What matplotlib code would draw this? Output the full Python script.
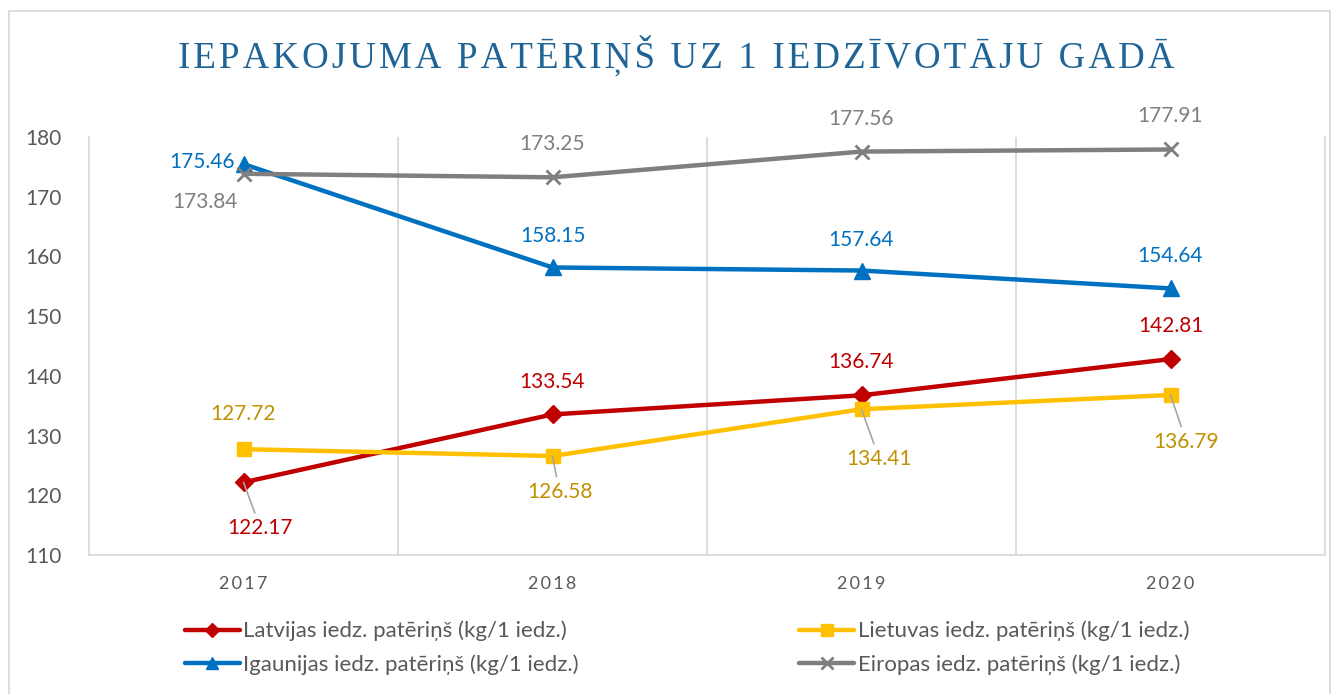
import matplotlib
matplotlib.use("Agg")
import matplotlib.pyplot as plt
from matplotlib.patches import Rectangle

years = ["2017", "2018", "2019", "2020"]
latvija = [122.17, 133.54, 136.74, 142.81]
lietuva = [127.72, 126.58, 134.41, 136.79]
igaunija = [175.46, 158.15, 157.64, 154.64]
eiropa = [173.84, 173.25, 177.56, 177.91]

names = ["Latvijas iedz. patēriņš (kg/1 iedz.)",
         "Lietuvas iedz. patēriņš (kg/1 iedz.)",
         "Igaunijas iedz. patēriņš (kg/1 iedz.)",
         "Eiropas iedz. patēriņš (kg/1 iedz.)"]

FONT = ["Lato", "DejaVu Sans"]
W, H = 1337, 694
fig = plt.figure(figsize=(W / 100, H / 100), dpi=100)
ax = fig.add_axes([89 / W, 1 - 555 / H, (1325 - 89) / W, (555 - 137) / H])

x = list(range(len(years)))
series = [
    (latvija, "#C00000", "D", 9, "#C00000"),
    (lietuva, "#FFC000", "s", 10, "#BF9000"),
    (igaunija, "#0070C0", "^", 11, "#0070C0"),
    (eiropa, "#7F7F7F", "x", 10, "#7F7F7F"),
]

# label offsets in pixels (dx, dy), leader flag
offsets = [
    [(17, -46, True), (0, 32, False), (0, 33, False), (0, 33, False)],
    [(0, 35, False), (7, -36, True), (18, -50, True), (16, -47, True)],
    [(-41, 2, False), (0, 31, False), (0, 31, False), (0, 32, False)],
    [(-39, -28, False), (0, 33, False), (0, 33, False), (0, 33, False)],
]

handles = []
for (vals, col, mk, ms, lcol), name, offs in zip(series, names, offsets):
    mew = 2 if mk == "x" else 1
    ln, = ax.plot(x, vals, color=col, lw=3.2, marker=mk, markersize=ms,
                  markerfacecolor=col, markeredgecolor=col, markeredgewidth=mew,
                  label=name, zorder=3, solid_capstyle="round")
    handles.append(ln)
    for xi, v, (dx, dy, lead) in zip(x, vals, offs):
        kw = {}
        if lead:
            kw["arrowprops"] = dict(arrowstyle="-", color="#A6A6A6", lw=1.2,
                                    shrinkA=2, shrinkB=0)
        ax.annotate(f"{v:.2f}", (xi, v), xytext=(dx, dy), textcoords="offset pixels",
                    ha="center", va="center", color=lcol, fontsize=15,
                    family=FONT, zorder=4, **kw)

ax.set_xlim(-0.5, 3.5)
ax.set_ylim(110, 180)
ax.set_yticks(range(110, 181, 10))
ax.set_xticks(x)
ax.set_xticklabels(["\u2009".join(y) for y in years], family=FONT, fontsize=13,
                   color="#595959")
for lab in ax.get_yticklabels():
    lab.set_family(FONT)
    lab.set_fontsize(15)
    lab.set_color("#595959")
ax.tick_params(axis="both", length=0)
ax.tick_params(axis="x", pad=15)
ax.tick_params(axis="y", pad=20)
for xv in [0.5, 1.5, 2.5]:
    ax.axvline(xv, color="#D9D9D9", lw=1.3, zorder=1)
ax.spines["top"].set_visible(False)
for s in ["left", "right", "bottom"]:
    ax.spines[s].set_color("#D9D9D9")
    ax.spines[s].set_linewidth(1.3)

title = "IEPAKOJUMA PATĒRIŅŠ UZ 1 IEDZĪVOTĀJU GADĀ"
fig.text(676 / W, 1 - 55 / H, "\u200a".join(title), ha="center", va="center",
         family=["Liberation Serif", "DejaVu Serif"], fontsize=26.6, color="#1F6497")

leg = fig.legend(handles=[handles[0], handles[2], handles[1], handles[3]],
                 loc="center", bbox_to_anchor=(687 / W, 1 - 648 / H), ncol=2,
                 frameon=False, handlelength=2.48, columnspacing=9.9,
                 handletextpad=0.17, labelspacing=0.6, markerscale=0.8,
                 prop={"family": FONT, "size": 16})
for t in leg.get_texts():
    t.set_color("#595959")

fig.patches.append(Rectangle((9 / W, -0.01), (1330 - 9) / W, 1 - 11 / H + 0.01,
                             transform=fig.transFigure, fill=False,
                             edgecolor="#D9D9D9", lw=1.3))

fig.savefig("out.png", dpi=100)
